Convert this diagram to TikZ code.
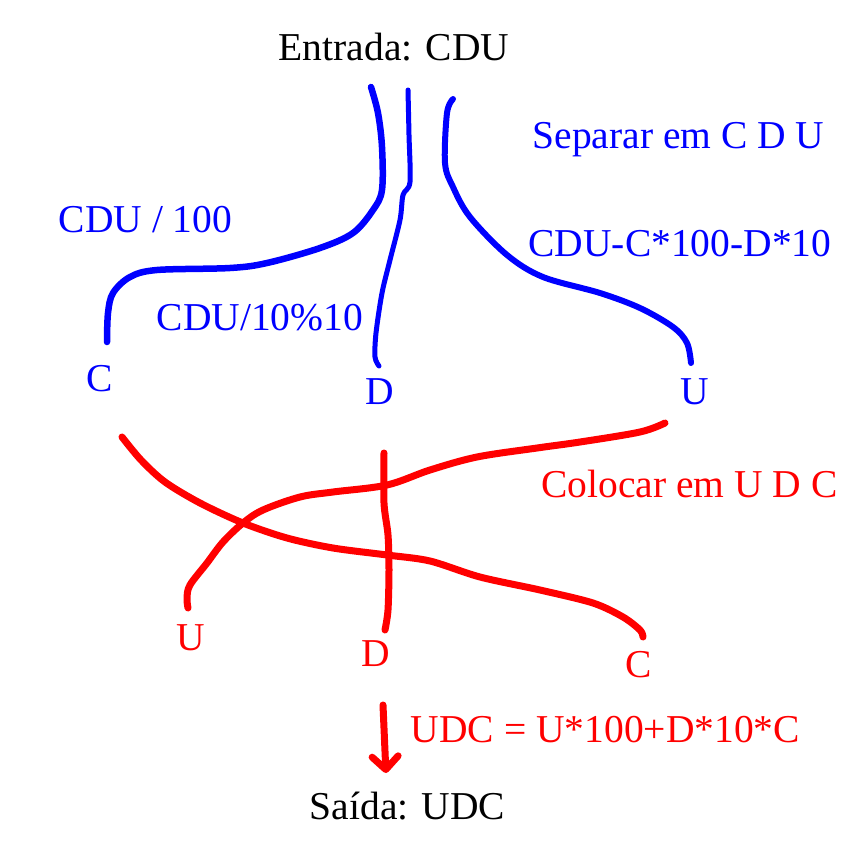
\documentclass[tikz,border=0pt]{standalone}
\usepackage{fontspec}
\setmainfont{Liberation Serif}
\usetikzlibrary{arrows.meta}
\definecolor{penblue}{RGB}{0,0,255}
\definecolor{penred}{RGB}{255,0,0}
\begin{document}
\begin{tikzpicture}[x=1pt,y=-1pt,
  lbl/.style={anchor=base,inner sep=0pt,font=\fontsize{39.5}{44}\selectfont},
  bluelbl/.style={lbl,text=penblue},
  redlbl/.style={lbl,text=penred},
  bluepen/.style={draw=penblue,line width=6pt,line cap=round,line join=round},
  redpen/.style={draw=penred,line width=7pt,line cap=round,line join=round}]
\useasboundingbox (0,0) rectangle (861,865);
% texts
\node[lbl] (entrada) at (394,60) {Entrada: CDU};
\node[lbl] (saida) at (407.5,819) {Saída: UDC};
\node[bluelbl] (sep) at (678.5,148) {Separar em C D U};
\node[bluelbl] (fc) at (145.5,232) {CDU / 100};
\node[bluelbl] (fu) at (680,256) {CDU-C*100-D*10};
\node[bluelbl] (fd) at (260,330) {CDU/10\%10};
\node[bluelbl] (bc) at (100,391) {C};
\node[bluelbl] (bd) at (380,404) {D};
\node[bluelbl] (bu) at (695,404) {U};
\node[redlbl] (col) at (689.5,497) {Colocar em U D C};
\node[redlbl] (ru) at (191,650) {U};
\node[redlbl] (rd) at (376,666) {D};
\node[redlbl] (rc) at (639,677) {C};
\node[redlbl] (eq) at (605.5,742) {UDC = U*100+D*10*C};
% named ends
\coordinate (sC) at (371,87);
\coordinate (eC) at (107,342);
\coordinate (sD) at (408,90);
\coordinate (eD) at (379,366);
\coordinate (sU) at (453,99);
\coordinate (eU) at (691,363);
\coordinate (rsC) at (122,437);
\coordinate (reC) at (643,637);
\coordinate (rsU) at (665,423);
\coordinate (reU) at (188,608);
\coordinate (rsD) at (384,453);
\coordinate (reD) at (385,630);
\coordinate (as) at (383,705);
\coordinate (ae) at (386,773);
% blue curves
\draw[bluepen,line width=6.5pt] plot[smooth,tension=0.55] coordinates {(sC) (378,113) (382,147) (382,190) (373,210) (353,233) (320,248) (267,263) (230,268) (157,270) (130,277) (113,293) (108,313) (eC)};
\draw[bluepen,line width=5pt] plot[smooth,tension=0.5] coordinates {(sD) (409,135) (410,182) (403,195) (400,220) (390,260) (382,293) (376,333) (375,357) (eD)};
\draw[bluepen] plot[smooth,tension=0.55] coordinates {(sU) (447,113) (445,163) (453,187) (470,217) (507,255) (543,277) (600,293) (640,308) (673,327) (687,343) (eU)};
% red curves
\draw[redpen] plot[smooth,tension=0.5] coordinates {(rsC) (141,460) (165,482) (200,503) (243,523) (287,538) (333,548) (387,555) (430,561) (480,577) (540,590) (593,603) (623,617) (640,630) (reC)};
\draw[redpen] plot[smooth,tension=0.55] coordinates {(rsU) (640,432) (580,442) (537,448) (477,457) (430,470) (387,485) (333,492) (300,497) (263,510) (243,523) (223,542) (207,563) (190,585) (187,598) (reU)};
\draw[redpen] plot[smooth,tension=0.5] coordinates {(rsD) (384,503) (388,535) (389,570) (388,610) (reD)};
% arrow
\draw[redpen,-{Straight Barb[length=13pt,width=26pt,round]}] (as) .. controls (384,735) .. (ae);
\end{tikzpicture}
\end{document}
